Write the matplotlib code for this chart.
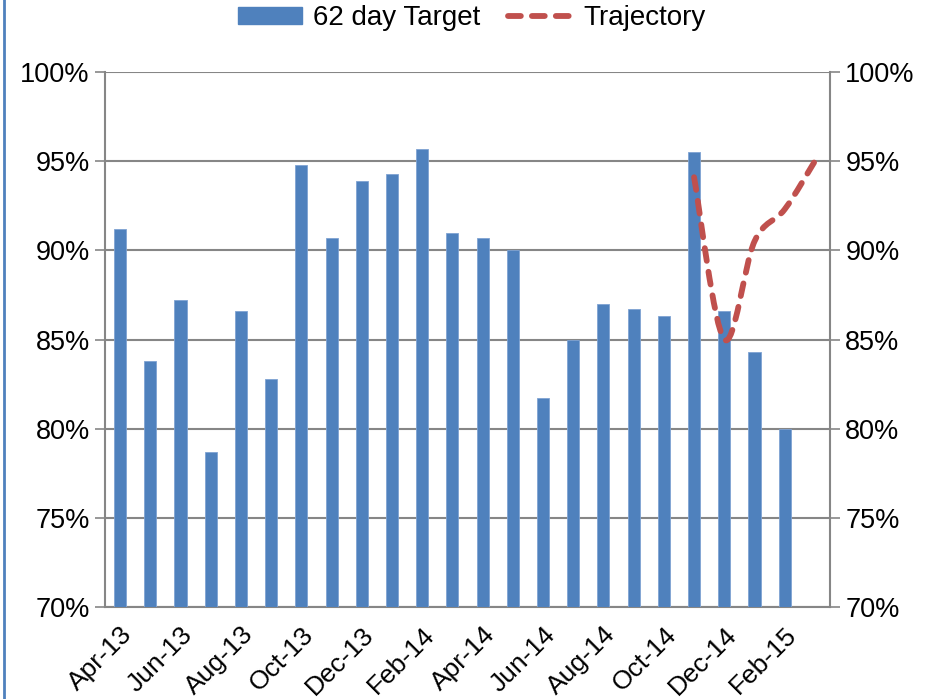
import matplotlib
matplotlib.use("Agg")
import matplotlib.pyplot as plt
from matplotlib.patches import Patch, PathPatch
from matplotlib.path import Path
from matplotlib.lines import Line2D
from matplotlib.ticker import FuncFormatter

# ================= Data =================
months = ["Apr-13", "May-13", "Jun-13", "Jul-13", "Aug-13", "Sep-13",
          "Oct-13", "Nov-13", "Dec-13", "Jan-14", "Feb-14", "Mar-14",
          "Apr-14", "May-14", "Jun-14", "Jul-14", "Aug-14", "Sep-14",
          "Oct-14", "Nov-14", "Dec-14", "Jan-15", "Feb-15", "Mar-15"]

target_62day = [91.2, 83.8, 87.2, 78.7, 86.6, 82.8,
                94.8, 90.7, 93.9, 94.3, 95.7, 91.0,
                90.7, 90.0, 81.7, 85.0, 87.0, 86.7,
                86.3, 95.5, 86.6, 84.3, 80.0, None]

traj_months = ["Nov-14", "Dec-14", "Jan-15", "Feb-15", "Mar-15"]
trajectory = [94.1, 85.0, 90.5, 92.3, 95.0]

# ================= Style =================
BLUE = "#4F81BD"
RED = "#C0504D"
GRID = "#868686"
FONT = "Liberation Sans"
LW = 4.2
DASH = (2.2, 1.9)

plt.rcParams["font.family"] = [FONT, "DejaVu Sans"]


def smooth_path(xs, ys):
    # Excel-style smoothed line: cubic bezier through the points
    verts = [(xs[0], ys[0])]
    codes = [Path.MOVETO]
    n = len(xs)
    for i in range(n - 1):
        x0, y0 = (xs[i - 1], ys[i - 1]) if i > 0 else (xs[i], ys[i])
        x1, y1 = xs[i], ys[i]
        x2, y2 = xs[i + 1], ys[i + 1]
        x3, y3 = (xs[i + 2], ys[i + 2]) if i + 2 < n else (x2, y2)
        c1 = (x1 + (x2 - x0) / 6, y1 + (y2 - y0) / 6)
        c2 = (x2 - (x3 - x1) / 6, y2 - (y3 - y1) / 6)
        verts += [c1, c2, (x2, y2)]
        codes += [Path.CURVE4] * 3
    return Path(verts, codes)


fig = plt.figure(figsize=(9.32, 6.99), dpi=100)
ax = fig.add_axes([105 / 932, 1 - 607 / 699, 725 / 932, 535 / 699])
ax2 = ax.twinx()

x = list(range(len(months)))
bx = [i for i, v in zip(x, target_62day) if v is not None]
bv = [v for v in target_62day if v is not None]
ax.bar(bx, bv, width=0.4, color=BLUE, edgecolor="#7FA3D3", linewidth=0.6,
       zorder=3)

tx = [months.index(m) for m in traj_months]
traj = PathPatch(smooth_path(tx, trajectory), facecolor="none",
                 edgecolor=RED, lw=LW, linestyle=(0, DASH),
                 capstyle="round", zorder=4)
ax2.add_patch(traj)

for a in (ax, ax2):
    a.set_ylim(70, 100)
    a.set_xlim(-0.5, len(months) - 0.5)
    a.set_yticks(range(70, 101, 5))
    a.yaxis.set_major_formatter(FuncFormatter(lambda v, _: f"{v:.0f}%"))
    a.tick_params(axis="y", labelsize=19.5, length=7, width=1.2, color=GRID,
                  pad=4)
    for s in a.spines.values():
        s.set_visible(False)

ax.grid(axis="y", color=GRID, lw=1.5, zorder=0)
ax.set_axisbelow(True)
ax.spines["left"].set_visible(True)
ax.spines["bottom"].set_visible(True)
ax2.spines["right"].set_visible(True)
for s in (ax.spines["left"], ax.spines["bottom"], ax2.spines["right"]):
    s.set_color(GRID)
    s.set_linewidth(1.5)

# x ticks at category boundaries, labels at every other category
ax.set_xticks([i - 0.5 for i in range(0, len(months) + 1, 2)])
ax.set_xticklabels([])
ax.tick_params(axis="x", length=7, width=1.2, color=GRID)
ax.set_xticks(x[::2], minor=True)
ax.set_xticklabels(months[::2], minor=True, rotation=45, ha="right",
                   rotation_mode="anchor", fontsize=19)
ax.tick_params(axis="x", which="minor", length=0, pad=11)
ax2.set_xticks([])

handles = [Patch(facecolor=BLUE, edgecolor=BLUE),
           Line2D([], [], color=RED, lw=LW, dashes=DASH,
                  dash_capstyle="round")]
fig.legend(handles, ["62 day Target", "Trajectory"], loc="center",
           bbox_to_anchor=(472 / 932, 1 - 18 / 699), ncol=2, frameon=False,
           fontsize=20, handlelength=2.3, handleheight=0.55,
           columnspacing=1.0, handletextpad=0.4)

# left border line
fig.add_artist(Line2D([3.5 / 932, 3.5 / 932], [0, 1], color=BLUE, lw=2,
                      transform=fig.transFigure))

fig.savefig("out.png", dpi=100, facecolor="white")
